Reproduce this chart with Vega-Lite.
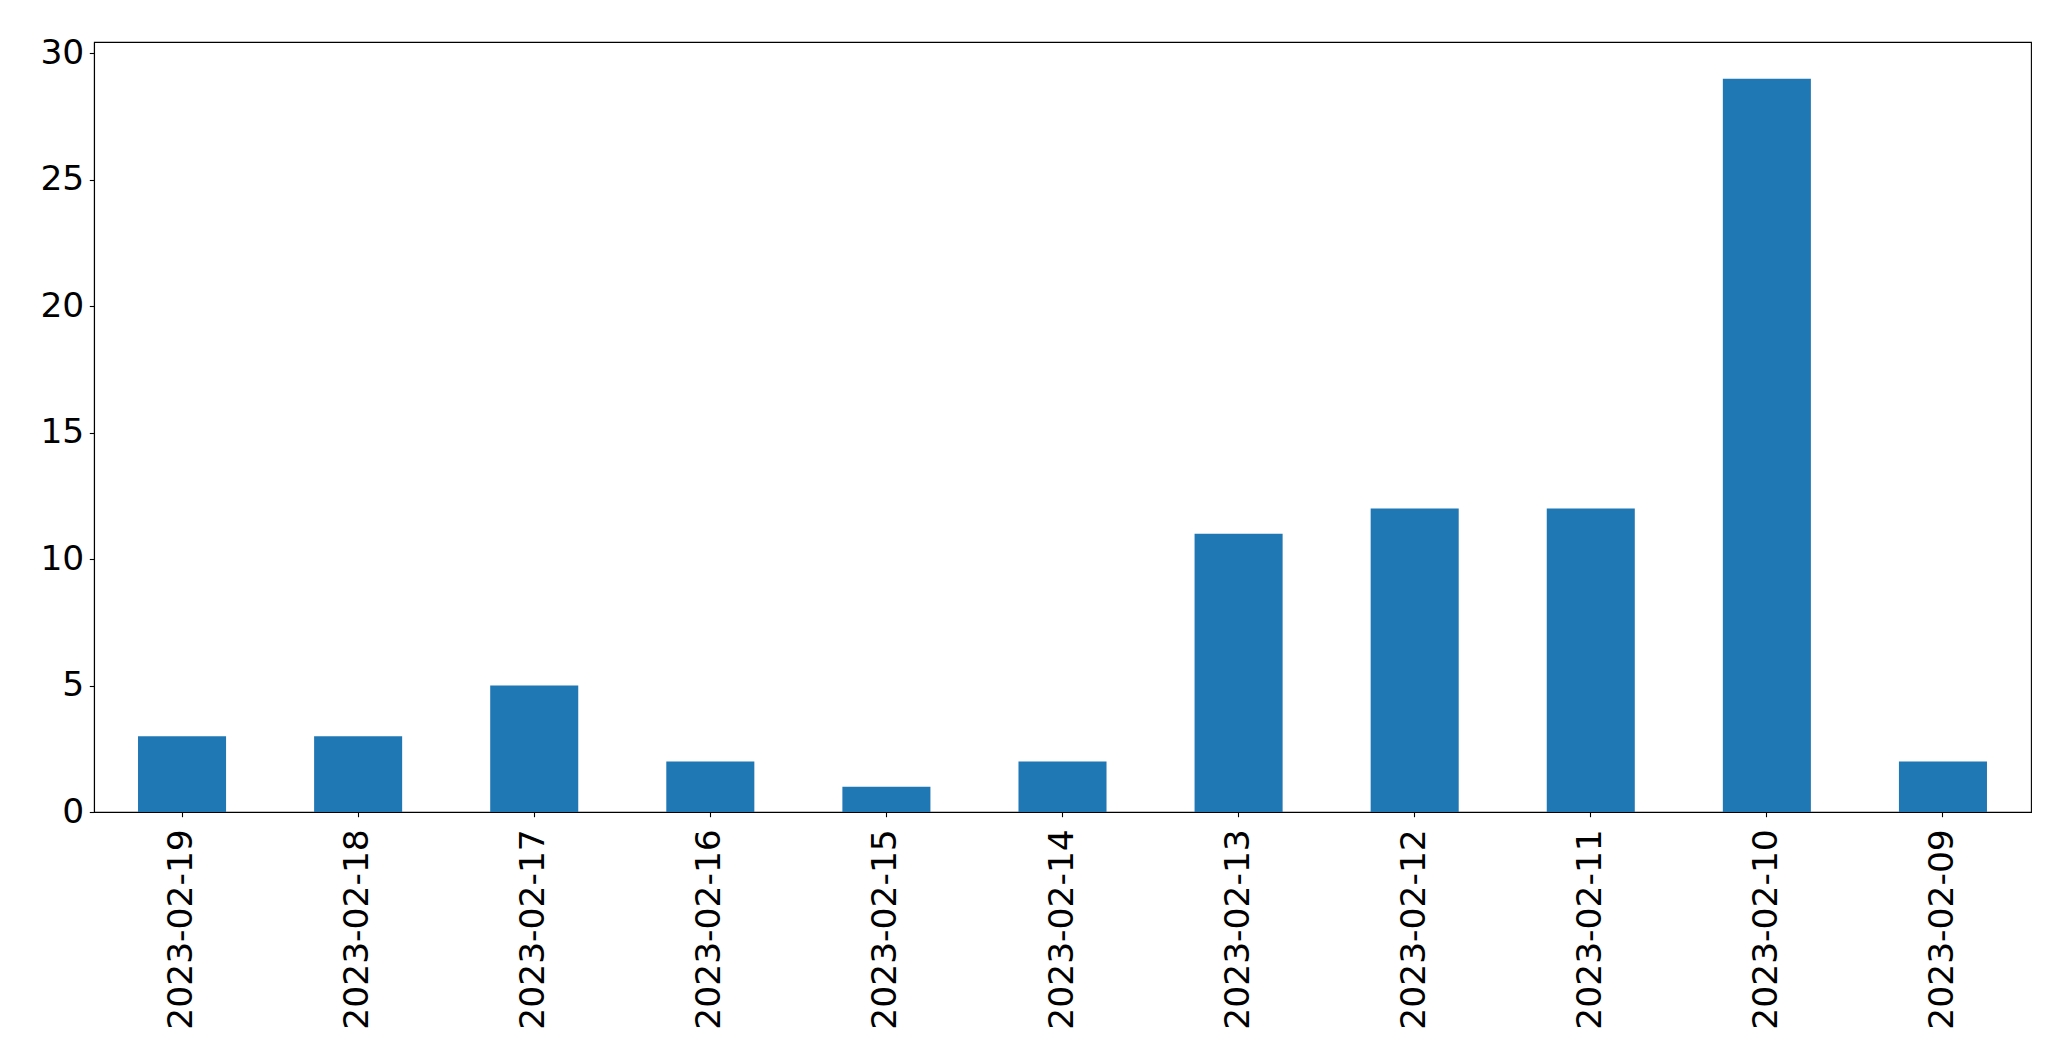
{
  "$schema": "https://vega.github.io/schema/vega-lite/v6.json",
  "autosize": "none",
  "padding": {"left": 94, "top": 42, "right": 40, "bottom": 252},
  "width": 1937,
  "height": 770,
  "background": "white",
  "config": {
    "view": {"stroke": "black", "strokeWidth": 1.1},
    "font": "DejaVu Sans",
    "axis": {
      "grid": false,
      "domainColor": "black",
      "domainWidth": 1.1,
      "tickColor": "black",
      "tickWidth": 1.1,
      "tickSize": 4.7,
      "labelFont": "DejaVu Sans",
      "labelFontSize": 34.5,
      "labelColor": "black",
      "labelLimit": 500,
      "title": null
    }
  },
  "data": {
    "values": [
      {"date": "2023-02-19", "count": 3},
      {"date": "2023-02-18", "count": 3},
      {"date": "2023-02-17", "count": 5},
      {"date": "2023-02-16", "count": 2},
      {"date": "2023-02-15", "count": 1},
      {"date": "2023-02-14", "count": 2},
      {"date": "2023-02-13", "count": 11},
      {"date": "2023-02-12", "count": 12},
      {"date": "2023-02-11", "count": 12},
      {"date": "2023-02-10", "count": 29},
      {"date": "2023-02-09", "count": 2}
    ]
  },
  "mark": {"type": "bar", "color": "#1f77b4"},
  "encoding": {
    "x": {
      "field": "date",
      "type": "nominal",
      "sort": null,
      "scale": {"paddingInner": 0.5, "paddingOuter": 0.25},
      "axis": {"labelAngle": -90, "labelPadding": 12, "labelAlign": "right", "labelBaseline": "middle"}
    },
    "y": {
      "field": "count",
      "type": "quantitative",
      "scale": {"domain": [0, 30.45], "nice": false},
      "axis": {"values": [0, 5, 10, 15, 20, 25, 30], "labelPadding": 5.5}
    }
  }
}
